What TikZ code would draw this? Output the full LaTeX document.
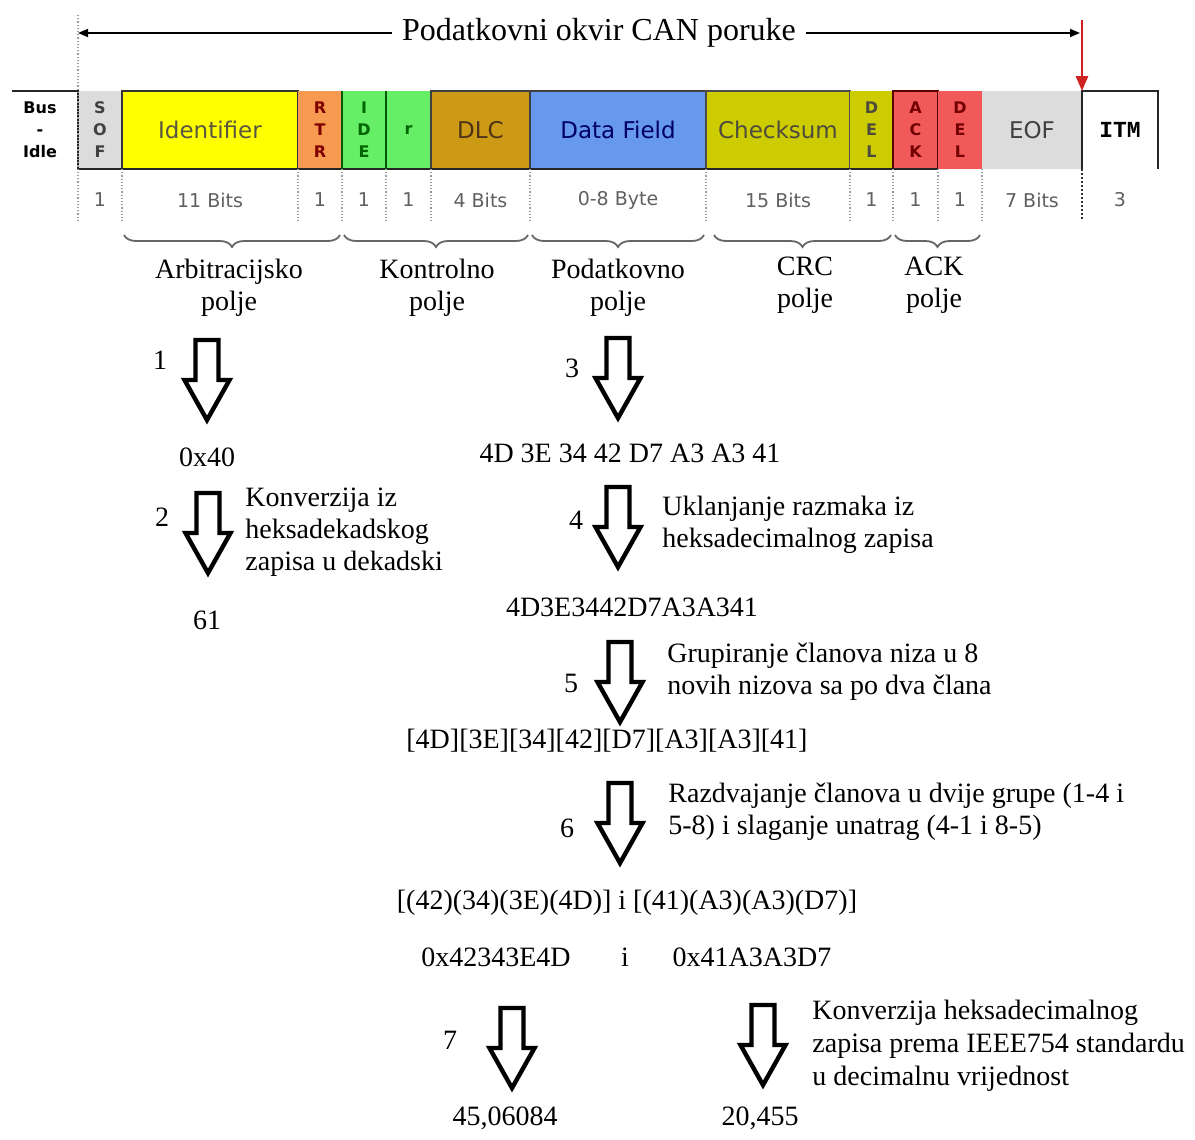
\documentclass[tikz,border=0pt]{standalone}
\usepackage{fontspec}
\setmainfont{Liberation Serif}
\newfontfamily\fieldfont{DejaVu Sans}
\newfontfamily\itmfont{Liberation Mono}
\usetikzlibrary{arrows.meta,decorations.pathreplacing,positioning}

\definecolor{sofgray}{HTML}{DCDCDC}
\definecolor{idyellow}{HTML}{FFFF00}
\definecolor{rtrorange}{HTML}{F59A50}
\definecolor{idegreen}{HTML}{66EE66}
\definecolor{dlcbrown}{HTML}{CC9A14}
\definecolor{datablue}{HTML}{6699EE}
\definecolor{crcolive}{HTML}{CCCC00}
\definecolor{ackred}{HTML}{F25A5A}
\definecolor{bitgray}{HTML}{606060}
\definecolor{markred}{HTML}{D02020}

\tikzset{
  field/.style={minimum height=39pt, inner sep=0pt, outer sep=0pt, align=center,
    font=\fieldfont\fontsize{11.5}{13}\selectfont},
  vfield/.style={field, font=\fieldfont\bfseries\fontsize{8}{11}\selectfont},
  bits/.style={font=\fieldfont\fontsize{9.5}{11}\selectfont, text=bitgray},
  sep/.style={densely dotted, gray!80, line width=0.6pt},
  frame/.style={line width=1.2pt, black!85},
  fieldbrace/.style={decorate, decoration={brace, mirror, amplitude=6pt},
    line width=0.9pt, black!60},
  lbl/.style={font=\fontsize{14}{16}\selectfont, align=center, inner sep=0pt},
  note/.style={font=\fontsize{14}{16}\selectfont, align=left, anchor=west, inner sep=0pt},
  pics/dnarrow/.style={code={
    \draw[line width=2.2pt, miter limit=10] (-11.5,0) -- (-11.5,40) -- (-22.5,40)
      -- (0,80) -- (22.5,40) -- (11.5,40) -- (11.5,0) -- cycle;}}
}

\begin{document}
\begin{tikzpicture}[x=0.5pt, y=-0.5pt]
  \path[use as bounding box, fill=white] (0,0) rectangle (1195,1140);

  % title with frame length arrows
  \node[font=\fontsize{16}{18}\selectfont, inner xsep=5pt] (title) at (599,33) {Podatkovni okvir CAN poruke};
  \coordinate (fl) at (78,33);
  \coordinate (fr) at (1080,33);
  \draw[-{Triangle[length=5pt,width=4pt]}, line width=0.8pt] (title.west) -- (fl);
  \draw[-{Triangle[length=5pt,width=4pt]}, line width=0.8pt] (title.east) -- (fr);

  % fields of the frame
  \node[vfield, minimum width=22pt, fill=sofgray, text=black!75] (sof) at (100,130) {S\\O\\F};
  \node[field, minimum width=88pt, fill=idyellow, draw=black!80, line width=1.2pt, text=black!75!yellow, right=0pt of sof] (id) {Identifier};
  \node[vfield, minimum width=22pt, fill=rtrorange, text=red!50!black, right=0pt of id] (rtr) {R\\T\\R};
  \node[vfield, minimum width=22pt, fill=idegreen, text=green!40!black, right=0pt of rtr] (ide) {I\\D\\E};
  \node[vfield, minimum width=22.5pt, fill=idegreen, text=green!40!black, right=0pt of ide] (res) {r};
  \node[field, minimum width=49.5pt, fill=dlcbrown, draw=black!75, line width=1.2pt, text=brown!40!black, right=0pt of res] (dlc) {DLC};
  \node[field, minimum width=88pt, fill=datablue, draw=black!75, line width=1.2pt, text=blue!40!black, right=0pt of dlc] (data) {Data Field};
  \node[field, minimum width=72pt, fill=crcolive, draw=black!70, line width=1.2pt, text=black!80!yellow, right=0pt of data] (crc) {Checksum};
  \node[vfield, minimum width=21.5pt, fill=crcolive, text=black!80!yellow, right=0pt of crc] (dela) {D\\E\\L};
  \node[vfield, minimum width=22.5pt, fill=ackred, draw=red!35!black, line width=1.2pt, text=red!45!black, right=0pt of dela] (ack) {A\\C\\K};
  \node[vfield, minimum width=22pt, fill=ackred, text=red!45!black, right=0pt of ack] (delb) {D\\E\\L};
  \node[field, minimum width=50pt, fill=sofgray, text=black!75, right=0pt of delb] (eof) {EOF};
  \node[field, minimum width=38pt, font=\itmfont\bfseries\fontsize{11.5}{13}\selectfont, right=0pt of eof] (itm) {ITM};
  \node[font=\fieldfont\bfseries\fontsize{8}{11}\selectfont, align=center] (idle) at (40,130) {Bus\\-\\Idle};

  % frame outline
  \coordinate (busstart) at (12,91);
  \draw[frame] (busstart) -- (sof.north west) -- (sof.south west) -- (ack.south east);
  \draw[frame] (eof.south east) -- (eof.north east) -- (itm.north east) -- (itm.south east);
  \draw[green!35!black, line width=1.2pt] (ide.north west) -- (ide.south west);
  \draw[green!35!black, line width=1.2pt] (res.north west) -- (res.south west);
  \coordinate (redtop) at (1082,20);
  \draw[markred, line width=1.4pt, -{Triangle[length=7.5pt,width=6pt]}] (redtop) -- (eof.north east);

  % bit counts
  \coordinate (bitrow) at (0,200);
  \coordinate (sepend) at (0,221);
  \node[bits] (bsof) at (sof |- bitrow) {1};
  \node[bits] (bid) at (id |- bitrow) {11 Bits};
  \node[bits] (brtr) at (rtr |- bitrow) {1};
  \node[bits] (bide) at (ide |- bitrow) {1};
  \node[bits] (bres) at (res |- bitrow) {1};
  \node[bits] (bdlc) at (dlc |- bitrow) {4 Bits};
  \node[bits] (bdata) at (data |- bitrow) {0-8 Byte};
  \node[bits] (bcrc) at (crc |- bitrow) {15 Bits};
  \node[bits] (bdela) at (dela |- bitrow) {1};
  \node[bits] (back) at (ack |- bitrow) {1};
  \node[bits] (bdelb) at (delb |- bitrow) {1};
  \node[bits] (beof) at (eof |- bitrow) {7 Bits};
  \node[bits] (bitm) at (itm |- bitrow) {3};

  % dotted separators
  \coordinate (septop) at (78,15);
  \draw[sep] (septop) -- (septop |- sepend);
  \draw[sep] (sof.south east) -- (sof.south east |- sepend);
  \draw[sep] (id.south east) -- (id.south east |- sepend);
  \draw[sep] (rtr.south east) -- (rtr.south east |- sepend);
  \draw[sep] (ide.south east) -- (ide.south east |- sepend);
  \draw[sep] (res.south east) -- (res.south east |- sepend);
  \draw[sep] (dlc.south east) -- (dlc.south east |- sepend);
  \draw[sep] (data.south east) -- (data.south east |- sepend);
  \draw[sep] (crc.south east) -- (crc.south east |- sepend);
  \draw[sep] (dela.south east) -- (dela.south east |- sepend);
  \draw[sep] (ack.south east) -- (ack.south east |- sepend);
  \draw[sep] (delb.south east) -- (delb.south east |- sepend);
  \draw[densely dotted, black!80, line width=1pt] (eof.south east) -- (eof.south east |- sepend);

  % field groups
  \coordinate (bracey) at (0,235);
  \draw[fieldbrace] ([xshift=1pt]id.west |- bracey) -- ([xshift=-1pt]rtr.east |- bracey);
  \draw[fieldbrace] ([xshift=1pt]ide.west |- bracey) -- ([xshift=-1pt]dlc.east |- bracey);
  \draw[fieldbrace] ([xshift=1pt]data.west |- bracey) -- ([xshift=-1pt]data.east |- bracey);
  \draw[fieldbrace] ([xshift=4pt]crc.west |- bracey) -- ([xshift=-1pt]dela.east |- bracey);
  \draw[fieldbrace] ([xshift=1pt]ack.west |- bracey) -- ([xshift=-1pt]delb.east |- bracey);
  \node[lbl] (arbit) at (229,288) {Arbitracijsko\\polje};
  \node[lbl] (kontr) at (437,288) {Kontrolno\\polje};
  \node[lbl] (podat) at (618,288) {Podatkovno\\polje};
  \node[lbl] (crcp) at (805,285) {CRC\\polje};
  \node[lbl] (ackp) at (934,285) {ACK\\polje};

  % identifier path
  \node[lbl] (n1) at (160,360) {1};
  \coordinate (ar1) at (207,340);
  \pic at (ar1) {dnarrow};
  \node[lbl] (hexid) at (207,457) {0x40};
  \node[lbl] (n2) at (162,517) {2};
  \coordinate (ar2) at (208,493);
  \pic at (ar2) {dnarrow};
  \node[note] (t2) at (245,532) {Konverzija iz\\heksadekadskog\\zapisa u dekadski};
  \node[lbl] (decid) at (207,620) {61};

  % data path
  \node[lbl] (n3) at (572,368) {3};
  \coordinate (ar3) at (618,338);
  \pic at (ar3) {dnarrow};
  \node[lbl] (raw) at (630,453) {4D 3E 34 42 D7 A3 A3 41};
  \node[lbl] (n4) at (576,520) {4};
  \coordinate (ar4) at (618,487);
  \pic at (ar4) {dnarrow};
  \node[note] (t4) at (662,525) {Uklanjanje razmaka iz\\heksadecimalnog zapisa};
  \node[lbl] (joined) at (632,607) {4D3E3442D7A3A341};
  \node[lbl] (n5) at (571,683) {5};
  \coordinate (ar5) at (620,642);
  \pic at (ar5) {dnarrow};
  \node[note] (t5) at (667,672) {Grupiranje članova niza u 8\\novih nizova sa po dva člana};
  \node[lbl] (pairs) at (607,741) {[4D][3E][34][42][D7][A3][A3][41]};
  \node[lbl] (n6) at (567,828) {6};
  \coordinate (ar6) at (620,783);
  \pic at (ar6) {dnarrow};
  \node[note] (t6) at (668,812) {Razdvajanje članova u dvije grupe (1-4 i\\5-8) i slaganje unatrag (4-1 i 8-5)};
  \node[lbl] (groups) at (627,903) {[(42)(34)(3E)(4D)] i [(41)(A3)(A3)(D7)]};
  \node[lbl] (hexa) at (496,957) {0x42343E4D};
  \node[lbl] (andi) at (625,957) {i};
  \node[lbl] (hexb) at (752,957) {0x41A3A3D7};

  % IEEE754 conversion
  \node[lbl] (n7) at (450,1040) {7};
  \coordinate (ar7) at (512,1008);
  \pic at (ar7) {dnarrow};
  \coordinate (ar8) at (763,1005);
  \pic at (ar8) {dnarrow};
  \node[note, font=\fontsize{14}{16.5}\selectfont] (t8) at (812,1046) {Konverzija heksadecimalnog\\zapisa prema IEEE754 standardu\\u decimalnu vrijednost};
  \node[lbl] (vala) at (505,1118) {45,06084};
  \node[lbl] (valb) at (760,1118) {20,455};
\end{tikzpicture}
\end{document}
